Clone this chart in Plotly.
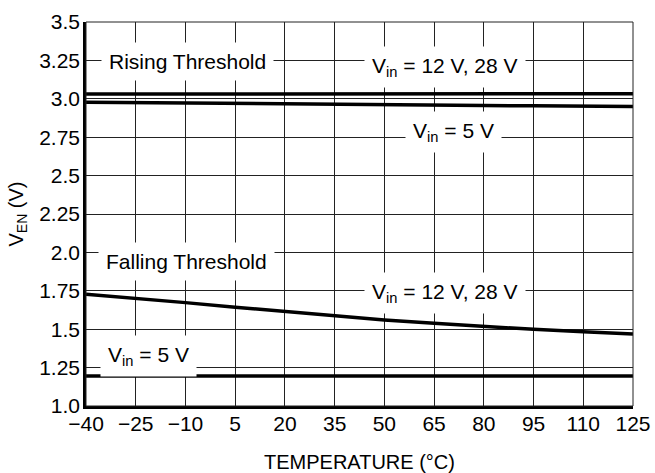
import plotly.graph_objects as go

temperature = [-40, -25, -10, 5, 20, 35, 50, 65, 80, 95, 110, 125]
rising_12_28 = [3.031, 3.031, 3.031, 3.031, 3.031, 3.031, 3.032, 3.032, 3.032, 3.033, 3.033, 3.033]
rising_5 = [2.978, 2.976, 2.974, 2.972, 2.969, 2.966, 2.963, 2.960, 2.957, 2.954, 2.952, 2.950]
falling_12_28 = [1.727, 1.701, 1.673, 1.643, 1.614, 1.586, 1.560, 1.538, 1.516, 1.499, 1.484, 1.469]
falling_5 = [1.195, 1.195, 1.195, 1.195, 1.195, 1.195, 1.195, 1.195, 1.195, 1.195, 1.195, 1.195]

x_ticks = [-40, -25, -10, 5, 20, 35, 50, 65, 80, 95, 110, 125]
y_ticks = [1.0, 1.25, 1.5, 1.75, 2.0, 2.25, 2.5, 2.75, 3.0, 3.25, 3.5]
y_tick_text = ["1.0", "1.25", "1.5", "1.75", "2.0", "2.25", "2.5", "2.75", "3.0", "3.25", "3.5"]

labels = [
    ("Rising Threshold", -9.4, 3.243),
    ("V<sub>in</sub> = 12 V, 28 V", 68.3, 3.21),
    ("V<sub>in</sub> = 5 V", 70.8, 2.787),
    ("Falling Threshold", -9.7, 1.944),
    ("V<sub>in</sub> = 12 V, 28 V", 68.3, 1.735),
    ("V<sub>in</sub> = 5 V", -21.0, 1.328),
]

FONT = "Liberation Sans, Arial, Helvetica, sans-serif"

fig = go.Figure()
for ys in [rising_12_28, rising_5, falling_12_28, falling_5]:
    fig.add_trace(go.Scatter(x=temperature, y=ys, mode="lines",
                             line=dict(color="black", width=3.5),
                             showlegend=False, hoverinfo="skip"))

for text, xv, yv in labels:
    fig.add_annotation(x=xv, y=yv, text=text, showarrow=False,
                       font=dict(family=FONT, size=21, color="black"),
                       bgcolor="white", borderpad=7,
                       xanchor="center", yanchor="middle")

fig.add_shape(type="rect", xref="paper", yref="paper", x0=0, y0=0, x1=1, y1=1,
              line=dict(color="#222", width=1), layer="above")

fig.update_layout(
    width=655, height=473,
    margin=dict(l=86, r=22, t=22, b=67),
    paper_bgcolor="white", plot_bgcolor="white",
    font=dict(family=FONT, size=21, color="black"),
    xaxis=dict(range=[-40, 125], tickvals=x_ticks, showgrid=True,
               gridcolor="#222", gridwidth=1, zeroline=False,
               showline=True, linecolor="black", linewidth=2.5,
               ticks="", ticklabelstandoff=-3, automargin=False,
               title=dict(text="TEMPERATURE (°C)", standoff=27,
                          font=dict(family=FONT, size=20))),
    yaxis=dict(range=[1.0, 3.5], tickvals=y_ticks, ticktext=y_tick_text,
               showgrid=True, gridcolor="#222", gridwidth=1, zeroline=False,
               showline=True, linecolor="black", linewidth=2.5,
               ticks="", ticklabelstandoff=-1, automargin=False,
               title=dict(text="V<sub>EN</sub> (V)", standoff=11,
                          font=dict(family=FONT, size=20))),
)

fig.write_html("out.html")
